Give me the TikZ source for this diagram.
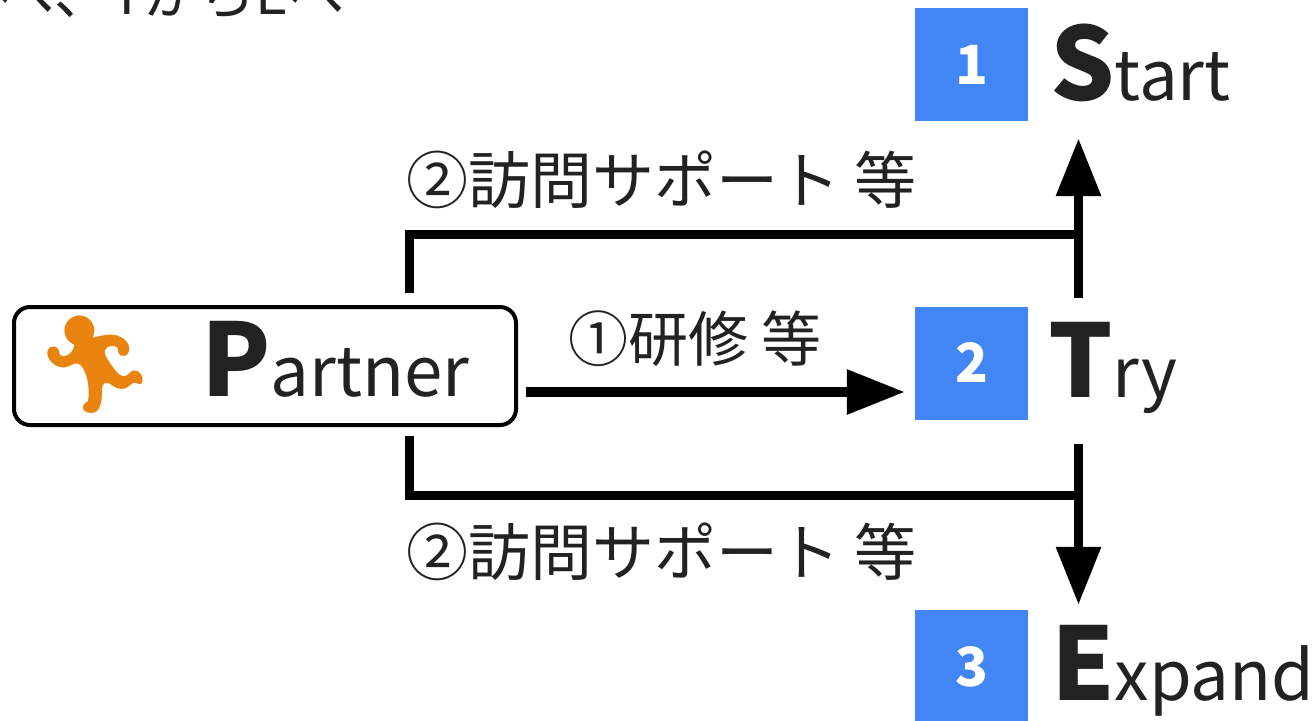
\documentclass[tikz,border=0pt]{standalone}
\usepackage{fontspec}
\setmainfont{Noto Sans CJK JP}
\newfontfamily\emojifont{Noto Emoji}
\usetikzlibrary{arrows.meta}
\definecolor{gblue}{HTML}{4285F4}
\definecolor{ink}{HTML}{222222}
\definecolor{runner}{HTML}{E8840F}
\tikzset{
  conn/.style={line width=9.5pt, black},
  arr/.style={conn, -{Triangle[length=58pt,width=43pt]}},
  numbox/.style={fill=gblue, minimum width=113pt, minimum height=113pt, inner sep=0pt, text=white, font=\fontsize{54}{54}\selectfont\bfseries},
  label/.style={inner sep=0pt, text=ink, anchor=base west},
  title/.style={inner sep=0pt, text=ink, anchor=base west},
}
\newcommand{\bigword}[2]{{\fontsize{101}{101}\selectfont\bfseries #1}{\fontsize{69}{69}\selectfont #2}}
\begin{document}
\begin{tikzpicture}[x=1pt,y=-1pt]
\useasboundingbox (0,0) rectangle (1314,720);
% cut-off heading
\node[inner sep=0pt, text=ink, anchor=base east, font=\fontsize{56}{56}\selectfont] (head) at (345,14) {SからTへ、TからEへ};
% partner box
\node[draw, line width=4pt, rounded corners=16pt, minimum width=502pt, minimum height=118pt, inner sep=0pt] (partner) at (265,366) {};
\node[inner sep=0pt, text=runner, font=\emojifont\fontsize{96}{96}\selectfont] (run) at (95,365) {🏃};
\node[title] (ptext) at (201,396) {\bigword{P}{artner}};
% number boxes
\node[numbox] (box1) at (971.5,64.5) {1};
\node[numbox] (box2) at (971.5,363) {2};
\node[numbox] (box3) at (971.5,666.5) {3};
\node[title] (t1) at (1050,100) {\bigword{S}{tart}};
\node[title] (t2) at (1048,397) {\bigword{T}{ry}};
\node[title] (t3) at (1051,700) {\bigword{E}{xpand}};
% labels
\node[label, font=\fontsize{62}{62}\selectfont] (lab1) at (406,203) {②訪問サポート 等};
\node[label, font=\fontsize{60}{60}\selectfont] (lab2) at (568,361) {①研修 等};
\node[label, font=\fontsize{62}{62}\selectfont] (lab3) at (406,575) {②訪問サポート 等};
% connectors
\coordinate (topL) at (409.5,293);
\coordinate (topC) at (409.5,234.5);
\coordinate (topR) at (1083,234.5);
\coordinate (botL) at (409.5,436);
\coordinate (botC) at (409.5,495.5);
\coordinate (botR) at (1083,495.5);
\draw[conn] (topL) -- (topC) -- (topR);
\draw[conn] (botL) -- (botC) -- (botR);
\draw[arr] ([shift={(8,26)}]partner.east) -- ([shift={(-10,29)}]box2.west);
\draw[arr] ([shift={(107,-8.5)}]box2.north) -- ([shift={(107,17)}]box1.south);
\draw[arr] ([shift={(107,24.5)}]box2.south) -- ([shift={(107,-5)}]box3.north);
\end{tikzpicture}
\end{document}
